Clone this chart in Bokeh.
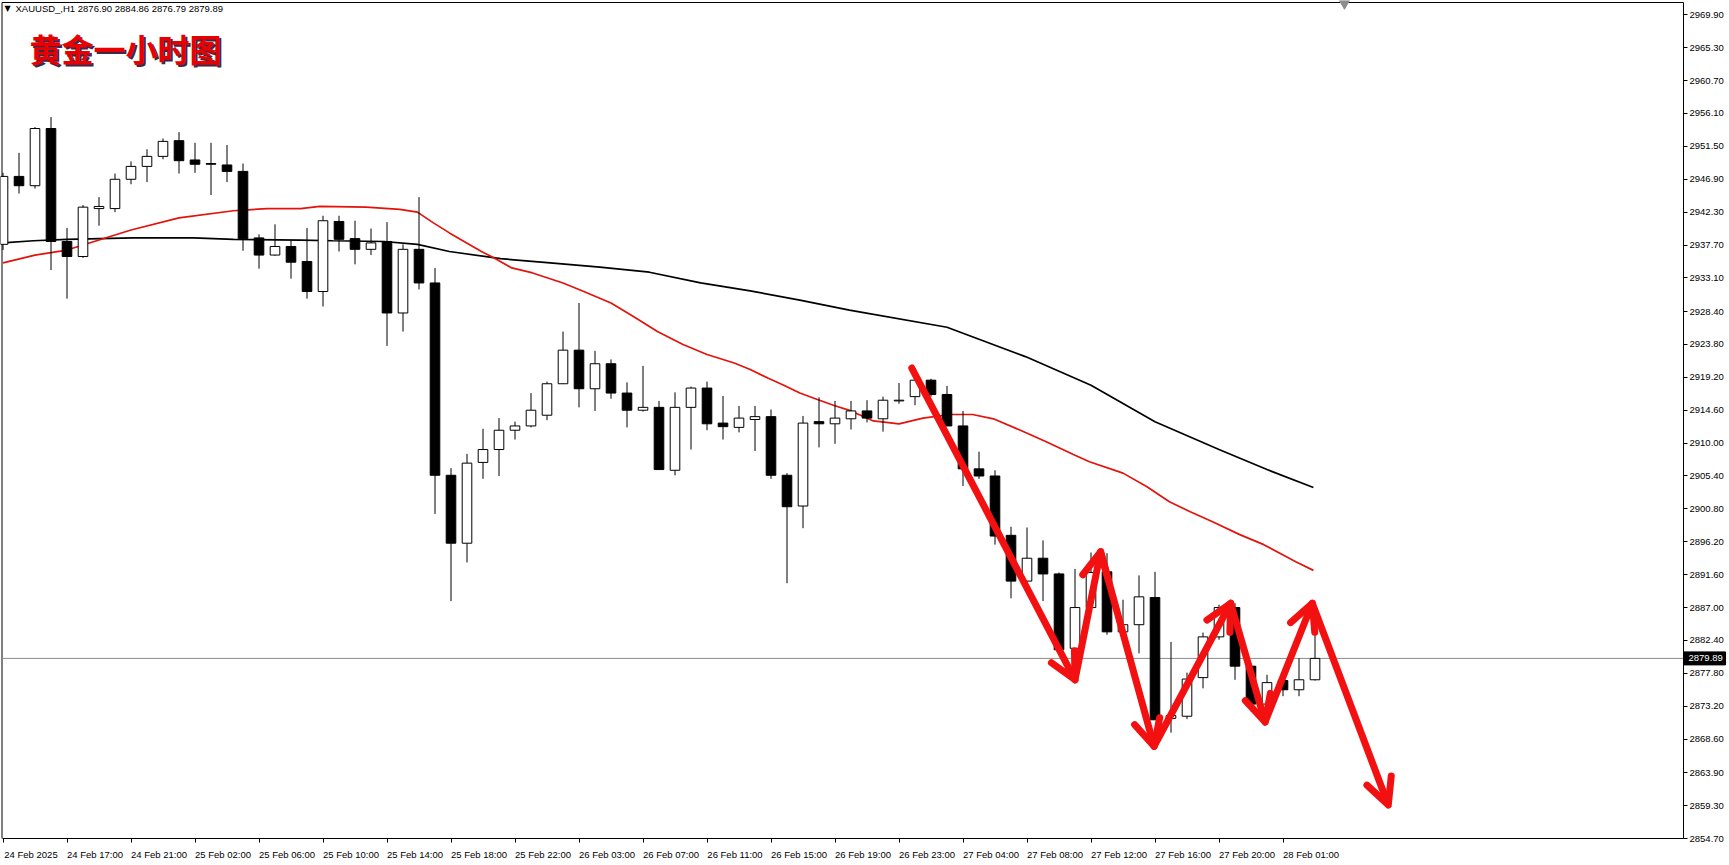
from bokeh.plotting import figure
from bokeh.models import (ColumnDataSource, Range1d, FixedTicker, CustomJSTickFormatter,
                          PrintfTickFormatter, Label, Arrow, OpenHead)
from bokeh.core.properties import value
from bokeh.embed import file_html
from bokeh.resources import INLINE

# ---------------- data ----------------
symbol_header = "XAUUSD_,H1  2876.90 2884.86 2876.79 2879.89"
title_text = "黄金一小时图"

time_labels = ["24 Feb 2025", "24 Feb 17:00", "24 Feb 21:00", "25 Feb 02:00", "25 Feb 06:00",
               "25 Feb 10:00", "25 Feb 14:00", "25 Feb 18:00", "25 Feb 22:00", "26 Feb 03:00",
               "26 Feb 07:00", "26 Feb 11:00", "26 Feb 15:00", "26 Feb 19:00", "26 Feb 23:00",
               "27 Feb 04:00", "27 Feb 08:00", "27 Feb 12:00", "27 Feb 16:00", "27 Feb 20:00",
               "28 Feb 01:00"]
label_bar_step = 4

opens = [2937.8, 2947.3, 2946.0, 2954.0, 2938.2, 2936.1, 2942.8, 2942.8, 2946.9, 2948.7,
         2950.1, 2952.3, 2949.6, 2949.1, 2948.9, 2948.0, 2938.7, 2936.3, 2937.5, 2935.4,
         2931.2, 2941.0, 2938.6, 2937.1, 2938.2, 2928.2, 2937.1, 2932.4, 2905.5, 2896.0,
         2907.3, 2909.1, 2911.8, 2912.4, 2913.9, 2918.3, 2923.0, 2917.6, 2921.1, 2917.0,
         2914.6, 2915.0, 2906.2, 2915.0, 2917.7, 2912.8, 2912.2, 2913.3, 2913.7, 2905.5,
         2901.2, 2913.0, 2912.7, 2913.4, 2914.5, 2913.4, 2915.9, 2916.5, 2918.8, 2916.8,
         2912.4, 2906.4, 2905.4, 2897.1, 2890.7, 2893.9, 2891.7, 2881.3, 2887.0, 2892.0,
         2883.6, 2884.6, 2888.4, 2871.5, 2871.8, 2877.2, 2882.9, 2887.0, 2878.8, 2873.5,
         2876.8, 2875.5, 2876.90]
highs = [2947.8, 2950.6, 2954.2, 2955.6, 2940.1, 2943.3, 2944.4, 2947.7, 2949.4, 2951.1,
         2952.6, 2953.5, 2952.0, 2952.0, 2951.7, 2949.1, 2939.2, 2940.6, 2938.3, 2940.1,
         2941.8, 2941.8, 2941.1, 2940.0, 2940.9, 2937.8, 2944.4, 2934.5, 2906.5, 2908.5,
         2912.0, 2913.5, 2913.0, 2917.0, 2918.6, 2925.6, 2929.6, 2922.9, 2921.7, 2918.5,
         2920.8, 2915.9, 2917.1, 2917.9, 2918.6, 2916.6, 2915.2, 2915.2, 2914.7, 2905.8,
         2913.8, 2916.4, 2915.9, 2915.9, 2916.0, 2916.5, 2918.4, 2920.5, 2919.0, 2918.0,
         2914.5, 2908.8, 2906.2, 2898.3, 2898.2, 2896.4, 2891.9, 2892.4, 2894.7, 2894.6,
         2888.1, 2891.5, 2892.0, 2882.2, 2877.9, 2883.5, 2887.4, 2887.6, 2879.2, 2877.6,
         2877.0, 2879.9, 2884.86]
lows = [2937.0, 2944.9, 2945.6, 2934.2, 2930.2, 2935.9, 2940.4, 2942.3, 2946.2, 2946.5,
        2949.7, 2947.7, 2947.8, 2944.7, 2946.5, 2936.9, 2934.4, 2936.2, 2933.0, 2930.2,
        2929.1, 2936.8, 2935.0, 2936.3, 2923.6, 2925.6, 2931.5, 2900.1, 2887.9, 2893.3,
        2905.0, 2905.4, 2910.5, 2912.2, 2913.2, 2918.3, 2915.0, 2914.5, 2916.2, 2912.2,
        2914.4, 2906.3, 2905.5, 2909.1, 2911.8, 2910.5, 2911.5, 2908.9, 2905.0, 2890.4,
        2898.1, 2909.4, 2909.9, 2911.9, 2912.9, 2911.6, 2915.5, 2915.3, 2916.5, 2912.4,
        2904.0, 2905.0, 2895.8, 2888.3, 2890.6, 2887.9, 2880.8, 2880.8, 2886.8, 2883.2,
        2883.4, 2880.6, 2871.3, 2869.5, 2871.4, 2875.7, 2882.5, 2876.9, 2872.5, 2872.5,
        2874.6, 2874.6, 2876.79]
closes = [2947.3, 2946.0, 2954.0, 2938.2, 2936.1, 2943.0, 2943.1, 2946.9, 2948.7, 2950.1,
          2952.2, 2949.5, 2949.0, 2949.0, 2948.0, 2938.6, 2936.3, 2937.5, 2935.3, 2931.2,
          2941.1, 2938.5, 2937.1, 2938.0, 2928.2, 2937.1, 2932.4, 2905.5, 2896.0, 2907.2,
          2909.1, 2911.8, 2912.4, 2914.6, 2918.3, 2923.0, 2917.6, 2921.1, 2917.0, 2914.6,
          2915.0, 2906.3, 2915.0, 2917.7, 2912.7, 2912.3, 2913.5, 2913.7, 2905.5, 2901.1,
          2912.8, 2912.7, 2913.5, 2914.5, 2913.5, 2916.0, 2916.0, 2918.8, 2916.8, 2912.4,
          2906.4, 2905.4, 2897.0, 2890.7, 2893.9, 2891.7, 2881.1, 2887.0, 2891.9, 2883.6,
          2884.6, 2888.5, 2871.3, 2871.9, 2877.0, 2882.9, 2887.0, 2878.8, 2873.5, 2876.5,
          2875.5, 2876.9, 2879.89]
last_price = 2879.89

# moving averages: (bar position, price)
ma_red_x = [0, 2, 4, 6, 8, 11, 14.4, 16.5, 18.6, 19.8, 22.7, 24.8, 25.9, 26.9, 27.9, 29.9,
            30.7, 31.8, 33.1, 35, 36.3, 38, 39.4, 40.9, 42.5, 44, 45.7, 46.7, 47.8, 48.8,
            49.8, 50.9, 51.9, 53, 54.4, 56, 57.5, 59.2, 60.6, 61.9, 63.8, 65.2, 66.9, 67.9,
            70, 71.5, 72.9, 74.2, 75.6, 77.3, 78.8, 79.8, 80.8, 81.9]
ma_red_y = [2935.2, 2936.3, 2937.0, 2938.4, 2939.8, 2941.5, 2942.5, 2942.8, 2942.8, 2943.1,
            2943.0, 2942.7, 2942.3, 2940.8, 2939.4, 2936.8, 2935.9, 2934.5, 2933.8, 2932.4,
            2931.2, 2929.6, 2927.7, 2925.6, 2923.8, 2922.4, 2921.2, 2920.3, 2919.1, 2918.1,
            2917.0, 2916.1, 2915.3, 2914.5, 2913.1, 2912.7, 2913.5, 2914.0, 2914.0, 2913.4,
            2911.6, 2910.2, 2908.4, 2907.4, 2905.8, 2903.9, 2901.8, 2900.4, 2899.0, 2897.2,
            2895.8, 2894.6, 2893.4, 2892.2]
ma_black_x = [0, 1.9, 4, 8.1, 11.9, 14.4, 18.6, 20.6, 23.8, 25.9, 27.9, 31.1, 34.2, 37.3,
              40.4, 43.6, 46.7, 49.8, 52.9, 59, 63.9, 68, 72, 76, 79, 81.9]
ma_black_y = [2938.0, 2938.3, 2938.5, 2938.7, 2938.7, 2938.5, 2938.4, 2938.3, 2938.2, 2937.8,
              2936.8, 2935.8, 2935.2, 2934.6, 2933.9, 2932.4, 2931.3, 2930.0, 2928.6, 2926.2,
              2922.1, 2918.1, 2913.0, 2909.1, 2906.3, 2903.8]

# hand-drawn zig-zag arrows: waypoints (bar position, price)
arrow_x = [56.8, 67.0, 68.6, 71.94, 76.73, 78.88, 81.83, 86.58]
arrow_y = [2920.5, 2876.9, 2894.8, 2867.6, 2887.6, 2871.0, 2887.6, 2859.4]

y_ticks = [2969.90, 2965.30, 2960.70, 2956.10, 2951.50, 2946.90, 2942.30, 2937.70, 2933.10,
           2928.40, 2923.80, 2919.20, 2914.60, 2910.00, 2905.40, 2900.80, 2896.20, 2891.60,
           2887.00, 2882.40, 2877.80, 2873.20, 2868.60, 2863.90, 2859.30, 2854.70]

# ---------------- layout (pixels) ----------------
W, H = 1726, 862
PX_PER_BAR = 16.0          # horizontal spacing of the bars
PX_PER_UNIT = 7.15         # vertical pixels per price unit
BAR0_PX = 2.5              # page x of bar 0
BASE_PX = 838.0            # page y of the lowest grid price (bottom border)
RIGHT_PX = 1683.0          # page x of the price-scale border
LEFT_PX = 1.5
TOP_PX = 2.0
LABEL_SHIFT = 1.75         # x-label centre relative to its tick (bars)

FONT = "Liberation Sans"
RED_MA = "#e3120b"
ARROW_RED = "#f21010"
base_price = y_ticks[-1]


def px_x(px):
    return (px - BAR0_PX) / PX_PER_BAR


def px_y(py):
    return base_price + (BASE_PX - py) / PX_PER_UNIT


x_start, x_end = px_x(0), px_x(W)
y_start, y_end = px_y(H), px_y(0)
x_left, x_right = px_x(LEFT_PX), px_x(RIGHT_PX)
y_top = px_y(TOP_PX)

p = figure(width=W, height=H, x_range=Range1d(x_start, x_end), y_range=Range1d(y_start, y_end),
           output_backend="svg", toolbar_location=None, y_axis_location="right",
           x_axis_location="below", min_border=0)
p.grid.visible = False
p.outline_line_color = None
p.background_fill_color = "white"
p.border_fill_color = "white"

n = len(closes)
idx = list(range(n))
label_bars = [k * label_bar_step for k in range(len(time_labels))]

# bottom time axis, pinned to the bottom border of the chart
xa = p.xaxis[0]
xa.fixed_location = base_price
xa.bounds = (x_left, x_right)
xa.ticker = FixedTicker(ticks=[b + LABEL_SHIFT for b in label_bars], minor_ticks=label_bars)
xa.formatter = CustomJSTickFormatter(args=dict(labels=time_labels, shift=LABEL_SHIFT,
                                               step=label_bar_step),
                                     code="const k = Math.round((tick - shift) / step);"
                                          "return (k >= 0 && k < labels.length) ? labels[k] : '';")
xa.major_tick_out = 0
xa.major_tick_in = 0
xa.minor_tick_out = 4
xa.minor_tick_in = 0
xa.minor_tick_line_color = "black"
xa.axis_line_color = "black"
xa.major_label_standoff = 6
xa.major_label_text_font = FONT
xa.major_label_text_font_size = "9.5px"
xa.major_label_text_color = "black"

# right price axis, pinned to the right border of the chart
ya = p.yaxis[0]
ya.fixed_location = x_right
ya.bounds = (base_price, y_top)
ya.ticker = FixedTicker(ticks=y_ticks)
ya.formatter = PrintfTickFormatter(format="%.2f")
ya.major_tick_out = 4
ya.major_tick_in = 0
ya.minor_tick_out = 0
ya.minor_tick_in = 0
ya.minor_tick_line_color = None
ya.axis_line_color = "black"
ya.major_label_standoff = 2
ya.major_label_text_font = FONT
ya.major_label_text_font_size = "9.5px"
ya.major_label_text_color = "black"

# left and top borders of the chart
p.segment(x0=[x_left, x_left], y0=[y_top, base_price], x1=[x_right, x_left], y1=[y_top, y_top],
          line_color="black", line_width=1)

# current price line
p.segment(x0=[x_left], y0=[last_price], x1=[x_right], y1=[last_price],
          line_color="#8a8a8a", line_width=1)

# moving averages
p.line(ma_black_x, ma_black_y, line_color="black", line_width=1.7)
p.line(ma_red_x, ma_red_y, line_color=RED_MA, line_width=1.7)

# candles
src = ColumnDataSource(dict(
    x=idx, o=opens, h=highs, l=lows, c=closes,
    top=[max(a, b) for a, b in zip(opens, closes)],
    bottom=[min(a, b) for a, b in zip(opens, closes)],
    fill=["white" if c >= o else "black" for o, c in zip(opens, closes)],
))
p.segment(x0="x", y0="l", x1="x", y1="h", source=src, line_color="black", line_width=1)
p.vbar(x="x", width=0.6, top="top", bottom="bottom", source=src,
       fill_color="fill", line_color="black", line_width=1)

# chart shift marker at the top
p.scatter([n + 0.84], [px_y(3)], marker="inverted_triangle", size=10,
          fill_color="#8c8c8c", line_color="#8c8c8c")

# zig-zag arrows
for k in range(len(arrow_x) - 1):
    p.add_layout(Arrow(
        end=OpenHead(size=26, line_color=ARROW_RED, line_width=7, line_cap="round",
                     line_join="round"),
        x_start=arrow_x[k], y_start=arrow_y[k], x_end=arrow_x[k + 1], y_end=arrow_y[k + 1],
        line_color=ARROW_RED, line_width=7, line_cap="round"))

# current price tag on the price scale
p.quad(left=[x_right], right=[px_x(RIGHT_PX + 42)],
       bottom=[last_price - 6.5 / PX_PER_UNIT], top=[last_price + 6.5 / PX_PER_UNIT],
       fill_color="black", line_color="black")
p.text(x=[px_x(RIGHT_PX + 5)], y=[last_price], text=["%.2f" % last_price],
       text_font=value(FONT), text_font_size="9.5px", text_color="white",
       text_baseline="middle", text_align="left")

# header & title
p.add_layout(Label(x=4, y=H - 8, x_units="screen", y_units="screen", text="▼",
                   text_font="DejaVu Sans", text_font_size="8px", text_color="black",
                   text_baseline="middle"))
p.add_layout(Label(x=15, y=H - 8, x_units="screen", y_units="screen", text=symbol_header,
                   text_font=FONT, text_font_size="9.5px", text_color="black",
                   text_baseline="middle"))
p.add_layout(Label(x=31, y=H - 49, x_units="screen", y_units="screen", text=title_text,
                   text_font="Noto Sans CJK SC", text_font_style="bold", text_font_size="32px",
                   text_color="#3b2a4a", text_baseline="middle"))
p.add_layout(Label(x=29, y=H - 47, x_units="screen", y_units="screen", text=title_text,
                   text_font="Noto Sans CJK SC", text_font_style="bold", text_font_size="32px",
                   text_color="#e80000", text_baseline="middle"))

open("out.html", "w").write(file_html(p, INLINE))
